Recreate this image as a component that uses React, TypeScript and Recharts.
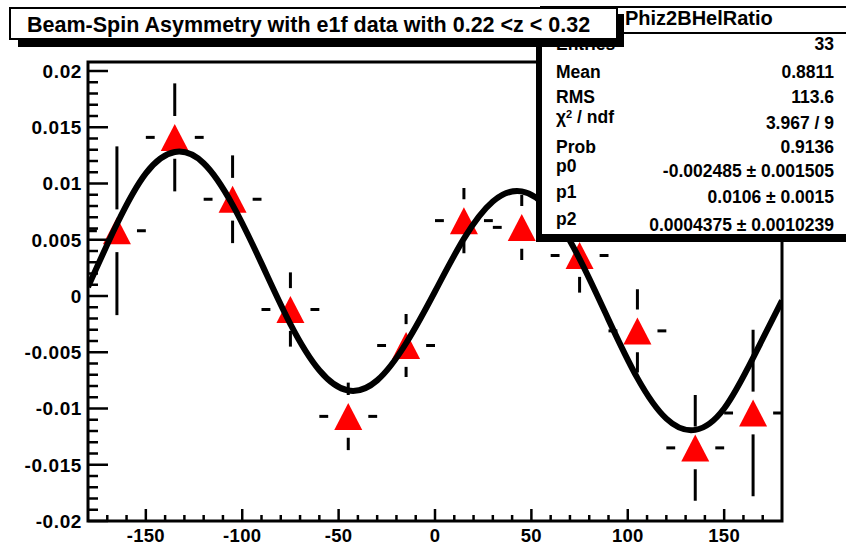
import React from 'react';
import {
  ComposedChart,
  XAxis,
  YAxis,
  Scatter,
  Line,
  ReferenceLine,
  ReferenceArea,
} from 'recharts';

// measured asymmetry per phi bin (bin width 30 deg)
const PHI = [-165, -135, -105, -75, -45, -15, 15, 45, 75, 105, 135, 165];
const ASYM = [0.0058, 0.0141, 0.0086, -0.0012, -0.0107, -0.0044, 0.0067, 0.0061, 0.0036, -0.0031, -0.0135, -0.0104];
const ASYM_ERR = [0.0075, 0.0048, 0.0039, 0.0033, 0.003, 0.0028, 0.0029, 0.0029, 0.0033, 0.0037, 0.0047, 0.0074];
const BIN_HALF = 15;

// fit curve, every 15 deg
const FIT_PHI = [-180, -165, -150, -135, -120, -105, -90, -75, -60, -45, -30, -15, 0, 15, 30, 45, 60, 75, 90, 105, 120, 135, 150, 165, 180];
const FIT_Y = [0.0008, 0.0064, 0.0109, 0.0128, 0.0118, 0.0081, 0.0029, -0.0025, -0.0066, -0.0084, -0.0075, -0.0042, 0.0004, 0.0051, 0.0084, 0.0093, 0.0075, 0.0033, -0.0021, -0.0073, -0.0109, -0.0119, -0.01, -0.0055, -0.0004];

// axis ticks
const X_MAJOR = [-150, -100, -50, 0, 50, 100, 150];
const Y_MAJOR = [-0.02, -0.015, -0.01, -0.005, 0, 0.005, 0.01, 0.015, 0.02];

// stats box
const STATS_TITLE = 'Phiz2BHelRatio';
const STATS_ROWS = [
  { label: 'Entries', value: '33', ly: 50, vy: 50 },
  { label: 'Mean', value: '0.8811', ly: 78, vy: 78 },
  { label: 'RMS', value: '113.6', ly: 103, vy: 103 },
  { label: 'chi', value: '3.967 / 9', ly: 123, vy: 129 },
  { label: 'Prob', value: '0.9136', ly: 153, vy: 153 },
  { label: 'p0', value: '-0.002485 \u00b1 0.001505', ly: 172, vy: 177 },
  { label: 'p1', value: '0.0106 \u00b1 0.0015', ly: 198, vy: 203 },
  { label: 'p2', value: '0.0004375 \u00b1 0.0010239', ly: 225, vy: 231 },
];
const TITLE = 'Beam-Spin Asymmetry with e1f data with 0.22 <z < 0.32';

const FONT = '"Liberation Sans", Arial, Helvetica, sans-serif';

const X_TICKS: number[] = [];
for (let i = -17; i <= 17; i++) X_TICKS.push(i * 10);
const Y_TICKS: number[] = [];
for (let i = -20; i <= 20; i++) Y_TICKS.push(i / 1000);

const points = PHI.map((x, i) => ({ x, y: ASYM[i], err: ASYM_ERR[i] }));
const fit = FIT_PHI.map((x, i) => ({ x, y: FIT_Y[i] }));

// ROOT leaves a gap around the marker
const GAP_X = 10.4;
const GAP_Y = 0.0019;
const errSegments = points.flatMap((p) => {
  const segs: { x: number; y: number }[][] = [];
  if (p.err > GAP_Y) {
    segs.push([{ x: p.x, y: p.y + GAP_Y }, { x: p.x, y: p.y + p.err }]);
    segs.push([{ x: p.x, y: p.y - GAP_Y }, { x: p.x, y: p.y - p.err }]);
  }
  segs.push([{ x: p.x - BIN_HALF, y: p.y }, { x: p.x - GAP_X, y: p.y }]);
  segs.push([{ x: p.x + GAP_X, y: p.y }, { x: p.x + BIN_HALF, y: p.y }]);
  return segs;
});

const isMajor = (v: number, majors: number[]) => majors.some((m) => Math.abs(m - v) < 1e-9);

const YTick = (props: any) => {
  const { x, y, payload } = props;
  const major = isMajor(payload.value, Y_MAJOR);
  return (
    <g>
      <line x1={x} x2={x + (major ? 20 : 10)} y1={y} y2={y} stroke="#000" strokeWidth={2.5} />
      {major && (
        <text x={x - 6} y={y} dy="0.36em" textAnchor="end" fontFamily={FONT} fontWeight="bold" fontSize={19} letterSpacing={0.6} fill="#000">
          {String(payload.value)}
        </text>
      )}
    </g>
  );
};

const XTick = (props: any) => {
  const { x, y, payload } = props;
  const major = isMajor(payload.value, X_MAJOR);
  return (
    <g>
      <line x1={x} x2={x} y1={y} y2={y - (major ? 12 : 6)} stroke="#000" strokeWidth={2.5} />
      {major && (
        <text x={x} y={y + 21} textAnchor="middle" fontFamily={FONT} fontWeight="bold" fontSize={18.5} letterSpacing={0.3} fill="#000">
          {String(payload.value)}
        </text>
      )}
    </g>
  );
};

const Triangle = (props: any) => {
  const { cx, cy } = props;
  if (cx == null || cy == null) return null;
  return <polygon points={`${cx - 14},${cy + 13.5} ${cx + 14},${cy + 13.5} ${cx},${cy - 13.5}`} fill="#ff0000" />;
};

export default function App() {
  return (
    <div style={{ position: 'absolute', left: 0, top: 0, width: 846, height: 545, background: '#fff' }}>
      <ComposedChart width={846} height={545} margin={{ top: 62, right: 64, bottom: 0, left: 0 }}>
        <XAxis
          dataKey="x"
          type="number"
          domain={[-180, 180]}
          allowDataOverflow
          ticks={X_TICKS}
          interval={0}
          tickSize={0}
          tickMargin={0}
          tickLine={false}
          axisLine={false}
          height={24}
          tick={<XTick />}
        />
        <YAxis
          dataKey="y"
          type="number"
          domain={[-0.02, 0.0208]}
          allowDataOverflow
          ticks={Y_TICKS}
          interval={0}
          tickSize={0}
          tickMargin={0}
          tickLine={false}
          axisLine={false}
          width={88}
          tick={<YTick />}
        />
        {errSegments.map((s, i) => (
          <ReferenceLine key={i} segment={s} stroke="#000" strokeWidth={3} ifOverflow="visible" zIndex={550} />
        ))}
        <Scatter data={points} dataKey="y" shape={<Triangle />} isAnimationActive={false} zIndex={600} />
        <Line
          data={fit}
          dataKey="y"
          type="natural"
          stroke="#000"
          strokeWidth={6}
          dot={false}
          activeDot={false}
          isAnimationActive={false}
          zIndex={700}
        />
        <ReferenceArea x1={-180} x2={180} y1={-0.02} y2={0.0208} fill="none" stroke="#000" strokeWidth={3} ifOverflow="visible" zIndex={800} />
      </ComposedChart>
      <svg width={846} height={545} style={{ position: 'absolute', left: 0, top: 0, pointerEvents: 'none' }}>
        <g fontFamily={FONT} fontWeight="bold" fill="#000">
          {/* stats box */}
          <rect x={536} y={12} width={320} height={230} fill="#000" />
          <rect x={541} y={7} width={320} height={228} fill="#fff" stroke="#000" strokeWidth={2} />
          <line x1={541} x2={846} y1={33} y2={33} stroke="#000" strokeWidth={2} />
          <text x={625} y={25} fontSize={20}>{STATS_TITLE}</text>
          {STATS_ROWS.map((r) => (
            <g key={r.label}>
              <text x={556} y={r.ly} fontSize={17.5}>
                {r.label === 'chi' ? (
                  <>
                    {'\u03c7'}
                    <tspan fontSize={11} dy={-5}>2</tspan>
                    <tspan dy={5}>{' / ndf'}</tspan>
                  </>
                ) : (
                  r.label
                )}
              </text>
              <text x={834} y={r.vy} fontSize={17.5} textAnchor="end">{r.value}</text>
            </g>
          ))}
          {/* title box */}
          <rect x={18} y={14} width={606} height={33} fill="#000" />
          <rect x={10} y={8} width={607} height={31} fill="#fff" stroke="#000" strokeWidth={2} />
          <text x={27} y={32} fontSize={21.5}>{TITLE}</text>
        </g>
      </svg>
    </div>
  );
}
